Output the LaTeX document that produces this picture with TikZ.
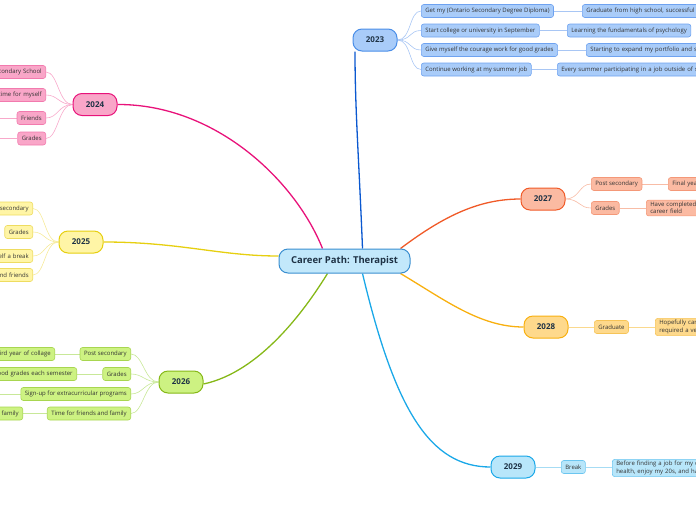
\documentclass[tikz,border=0pt]{standalone}
\usepackage{fontspec}
\setmainfont{Open Sans}
\usetikzlibrary{backgrounds}
\definecolor{txt}{HTML}{1F3346}
\definecolor{leaftxt}{HTML}{333333}
\definecolor{rootf}{HTML}{C2E8FB}
\definecolor{rootb}{HTML}{3A8FD0}
% 2023 blue
\definecolor{aL}{HTML}{0A58D0}
\definecolor{aF}{HTML}{A9CCF9}
\definecolor{aB}{HTML}{4A8EE8}
\definecolor{aC}{HTML}{6EA2F0}
\definecolor{aCl}{HTML}{A8C6F4}
% 2024 pink
\definecolor{bL}{HTML}{E8127A}
\definecolor{bF}{HTML}{F9A6C8}
\definecolor{bC}{HTML}{F27AAE}
\definecolor{bCl}{HTML}{F8A8CA}
% 2025 yellow
\definecolor{cL}{HTML}{E6CF10}
\definecolor{cF}{HTML}{FFF5A6}
\definecolor{cC}{HTML}{EEDC60}
\definecolor{cCl}{HTML}{F6EA9A}
% 2026 green
\definecolor{dL}{HTML}{86B818}
\definecolor{dF}{HTML}{CDF282}
\definecolor{dC}{HTML}{A8D650}
\definecolor{dCl}{HTML}{C8E898}
% 2027 orange-red
\definecolor{eL}{HTML}{F05A28}
\definecolor{eF}{HTML}{FBBAA2}
\definecolor{eC}{HTML}{F49878}
\definecolor{eCl}{HTML}{F8BCA6}
% 2028 orange
\definecolor{fL}{HTML}{F8B010}
\definecolor{fF}{HTML}{FED98C}
\definecolor{fC}{HTML}{F6C458}
\definecolor{fCl}{HTML}{FAD98E}
% 2029 light blue
\definecolor{gL}{HTML}{1AA8E8}
\definecolor{gF}{HTML}{B8E6FA}
\definecolor{gC}{HTML}{6CC6F0}
\definecolor{gCl}{HTML}{A6DCF4}
\tikzset{
  rootnode/.style={draw=rootb, fill=rootf, line width=1pt, rounded corners=9pt,
    minimum width=131pt, minimum height=24pt, inner sep=0pt,
    font=\fontsize{9.5}{11}\selectfont\bfseries, text=txt},
  yearnode/.style 2 args={draw=#1, fill=#2, line width=1pt, rounded corners=9pt,
    minimum width=44pt, minimum height=22pt, inner sep=0pt,
    font=\fontsize{8}{9}\selectfont\bfseries, text=txt},
  leaf/.style 2 args={draw=#1, fill=#2, line width=0.6pt, rounded corners=2.5pt,
    minimum height=13pt, inner xsep=4pt, inner ysep=2pt,
    font=\fontsize{6}{7.2}\selectfont, text=leaftxt},
  lclip/.style={text width=#1, align=right},
  rclip/.style={text width=#1, align=left},
  mainline/.style={draw=#1, line width=1.3pt},
  subline/.style={draw=#1, line width=0.6pt},
}
\begin{document}
\begin{tikzpicture}[x=1pt,y=-1pt]
\useasboundingbox (0,0) rectangle (696,520);
\clip (0,0) rectangle (696,520);

% root
\node[rootnode] (root) at (344.5,261) {Career Path: Therapist};

% years
\node[yearnode={aB}{aF}] (y2023) at (375,40) {2023};
\node[yearnode={bL}{bF}] (y2024) at (95,104.5) {2024};
\node[yearnode={cL}{cF}] (y2025) at (81,242) {2025};
\node[yearnode={dL}{dF}] (y2026) at (181,382) {2026};
\node[yearnode={eL}{eF}] (y2027) at (543,199) {2027};
\node[yearnode={fL}{fF}] (y2028) at (546,327) {2028};
\node[yearnode={gL}{gF}] (y2029) at (513,467) {2029};

% 2023 children
\node[leaf={aC}{aF}, anchor=west] (a1) at (421,11) {Get my (Ontario Secondary Degree Diploma)};
\node[leaf={aC}{aF}, anchor=west] (a2) at (421,30.5) {Start college or university in September};
\node[leaf={aC}{aF}, anchor=west] (a3) at (421,50) {Give myself the courage work for good grades};
\node[leaf={aC}{aF}, anchor=west] (a4) at (421,69.5) {Continue working at my summer job};
\node[leaf={aC}{aF}, anchor=west, rclip=130pt] (a1g) at (582,11) {Graduate from high school, successful};
\node[leaf={aC}{aF}, anchor=west] (a2g) at (567,30.5) {Learning the fundamentals of psychology};
\node[leaf={aC}{aF}, anchor=west, rclip=130pt] (a3g) at (586,50) {Starting to expand my portfolio and sk};
\node[leaf={aC}{aF}, anchor=west, rclip=160pt] (a4g) at (557,69.5) {Every summer participating in a job outside of sc};

% 2024 children
\node[leaf={bC}{bF}, anchor=east, lclip=70pt] (b1) at (46,72) {econdary School};
\node[leaf={bC}{bF}, anchor=east, lclip=70pt] (b2) at (46,95) {time for myself};
\node[leaf={bC}{bF}, anchor=east] (b3) at (46,118) {Friends};
\node[leaf={bC}{bF}, anchor=east] (b4) at (46,138.5) {Grades};
\coordinate (b3g) at (0,118);
\coordinate (b4g) at (0,138.5);

% 2025 children
\node[leaf={cC}{cF}, anchor=east, lclip=60pt] (c1) at (33,208.5) {secondary};
\node[leaf={cC}{cF}, anchor=east] (c2) at (33,232) {Grades};
\node[leaf={cC}{cF}, anchor=east, lclip=60pt] (c3) at (33,256) {elf a break};
\node[leaf={cC}{cF}, anchor=east, lclip=60pt] (c4) at (33,275) {nd friends};

% 2026 children
\node[leaf={dC}{dF}, anchor=east] (d1) at (131,354) {Post secondary};
\node[leaf={dC}{dF}, anchor=east] (d2) at (131,374) {Grades};
\node[leaf={dC}{dF}, anchor=east] (d3) at (131,394) {Sign-up for extracurricular programs};
\node[leaf={dC}{dF}, anchor=east] (d4) at (131,413.5) {Time for friends and family};
\node[leaf={dC}{dF}, anchor=east, lclip=80pt] (d1g) at (55,354) {ird year of collage};
\node[leaf={dC}{dF}, anchor=east, lclip=100pt] (d2g) at (77,374) {ood grades each semester};
\node[leaf={dC}{dF}, anchor=east, lclip=60pt] (d4g) at (23,413.5) {family};
\coordinate (d3g) at (0,394);

% 2027 children
\node[leaf={eC}{eF}, anchor=west] (e1) at (591,184) {Post secondary};
\node[leaf={eC}{eF}, anchor=west] (e2) at (591,208) {Grades};
\node[leaf={eC}{eF}, anchor=west, rclip=80pt] (e1g) at (668,184) {Final yea};
\node[leaf={eC}{eF}, anchor=west, rclip=80pt] (e2g) at (646,208) {Have completed\\career field};

% 2028 children
\node[leaf={fC}{fF}, anchor=west] (f1) at (594,327) {Graduate};
\node[leaf={fC}{fF}, anchor=west, rclip=80pt] (f1g) at (655,327) {Hopefully car\\required a ve};

% 2029 children
\node[leaf={gC}{gF}, anchor=west] (g1) at (561,467) {Break};
\node[leaf={gC}{gF}, anchor=west, rclip=110pt] (g1g) at (612,468) {Before finding a job for my c\\health, enjoy my 20s, and ha};

\begin{scope}[on background layer]
% main connectors
\draw[mainline=aL] ([xshift=18pt]root.north) .. controls (359,160) and (355,110) .. ([xshift=-20pt]y2023.south);
\draw[mainline=bL] (y2024.east) .. controls (215,104) and (295,180) .. ([xshift=-22pt]root.north);
\draw[mainline=cL] (y2025.east) .. controls (180,242) and (220,256) .. ([yshift=5pt]root.west);
\draw[mainline=dL] ([yshift=-2pt]y2026.east) .. controls (260,372) and (305,310) .. ([xshift=-17pt]root.south);
\draw[mainline=eL] ([xshift=56pt]root.north) .. controls (445,215) and (480,199) .. (y2027.west);
\draw[mainline=fL] ([xshift=56pt]root.south) .. controls (445,300) and (480,327) .. (y2028.west);
\draw[mainline=gL] ([xshift=18pt]root.south) .. controls (395,410) and (430,467) .. (y2029.west);

% 2023 sub connectors
\foreach \n in {a1,a2,a3,a4}{
  \draw[subline=aCl] (y2023.east) .. controls +(14,0) and ([xshift=-12pt]\n.west) .. (\n.west);
}
\draw[subline=aCl] (a1.east) -- (a1g.west);
\draw[subline=aCl] (a2.east) -- (a2g.west);
\draw[subline=aCl] (a3.east) -- (a3g.west);
\draw[subline=aCl] (a4.east) -- (a4g.west);
% 2024
\foreach \n in {b1,b2,b3,b4}{
  \draw[subline=bCl] (y2024.west) .. controls +(-14,0) and ([xshift=12pt]\n.east) .. (\n.east);
}
\draw[subline=bCl] (b3.west) -- (b3g);
\draw[subline=bCl] (b4.west) -- (b4g);
% 2025
\foreach \n in {c1,c2,c3,c4}{
  \draw[subline=cCl] (y2025.west) .. controls +(-14,0) and ([xshift=12pt]\n.east) .. (\n.east);
}
% 2026
\foreach \n in {d1,d2,d3,d4}{
  \draw[subline=dCl] (y2026.west) .. controls +(-14,0) and ([xshift=12pt]\n.east) .. (\n.east);
}
\draw[subline=dCl] (d1.west) -- (d1g.east);
\draw[subline=dCl] (d2.west) -- (d2g.east);
\draw[subline=dCl] (d3.west) -- (d3g);
\draw[subline=dCl] (d4.west) -- (d4g.east);
% 2027
\foreach \n in {e1,e2}{
  \draw[subline=eCl] (y2027.east) .. controls +(14,0) and ([xshift=-12pt]\n.west) .. (\n.west);
}
\draw[subline=eCl] (e1.east) -- (e1g.west);
\draw[subline=eCl] (e2.east) -- (e2g.west |- e2.east);
% 2028
\draw[subline=fCl] (y2028.east) -- (f1.west);
\draw[subline=fCl] (f1.east) -- (f1g.west);
% 2029
\draw[subline=gCl] (y2029.east) -- (g1.west);
\draw[subline=gCl] (g1.east) -- (g1g.west |- g1.east);
\end{scope}
\end{tikzpicture}
\end{document}
